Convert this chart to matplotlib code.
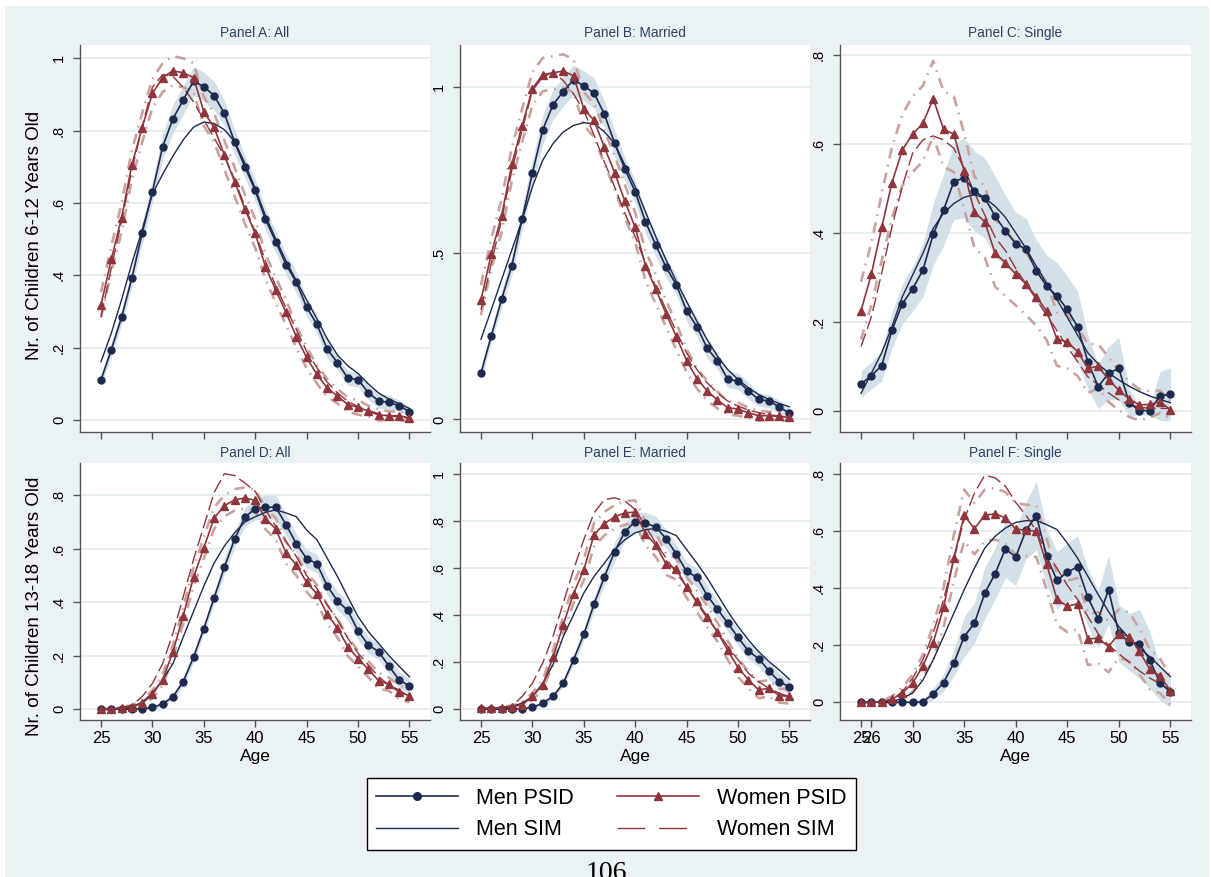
import matplotlib
matplotlib.use("Agg")
import numpy as np
import matplotlib.pyplot as plt
from matplotlib.lines import Line2D
from matplotlib.patches import Rectangle

plt.rcParams['font.family'] = ['Liberation Sans', 'DejaVu Sans']

# ---------------- data ----------------
ages = list(range(25, 56))

# Panel A: children 6-12, all
men_psid_A = [0.111,0.194,0.284,0.392,0.516,0.631,0.756,0.833,0.885,0.937,0.922,0.897,0.848,0.768,0.700,0.635,0.555,0.493,0.430,0.381,0.312,0.265,0.196,0.159,0.116,0.112,0.076,0.053,0.049,0.040,0.023]
women_psid_A = [0.318,0.444,0.559,0.705,0.808,0.903,0.947,0.966,0.960,0.947,0.853,0.809,0.733,0.659,0.583,0.516,0.424,0.359,0.298,0.230,0.173,0.126,0.089,0.066,0.043,0.035,0.025,0.014,0.012,0.012,0.006]
men_sim_A = [0.161,0.24,0.332,0.433,0.525,0.625,0.68,0.73,0.775,0.81,0.824,0.82,0.803,0.77,0.71,0.64,0.565,0.50,0.44,0.385,0.332,0.28,0.225,0.18,0.15,0.129,0.10,0.075,0.058,0.045,0.032]
women_sim_A = [0.285,0.42,0.55,0.69,0.81,0.92,0.955,0.95,0.92,0.88,0.83,0.78,0.73,0.665,0.59,0.52,0.44,0.37,0.31,0.25,0.19,0.145,0.105,0.075,0.052,0.037,0.026,0.018,0.012,0.008,0.005]
men_ci_A = [0.015,0.02,0.02,0.025,0.03,0.03,0.035,0.04,0.04,0.04,0.04,0.04,0.035,0.035,0.03,0.03,0.03,0.03,0.03,0.03,0.025,0.025,0.025,0.02,0.02,0.02,0.02,0.02,0.02,0.015,0.015]
women_ci_A = [0.035,0.035,0.04,0.04,0.04,0.04,0.04,0.04,0.04,0.04,0.04,0.04,0.04,0.04,0.04,0.04,0.035,0.035,0.035,0.03,0.03,0.025,0.025,0.02,0.02,0.02,0.015,0.015,0.012,0.012,0.01]

# Panel B: children 6-12, married
men_psid_B = [0.139,0.251,0.361,0.463,0.603,0.741,0.871,0.947,0.987,1.022,1.004,0.982,0.919,0.831,0.753,0.685,0.595,0.525,0.458,0.405,0.327,0.279,0.214,0.176,0.121,0.115,0.086,0.060,0.055,0.038,0.018]
women_psid_B = [0.359,0.498,0.612,0.768,0.884,0.995,1.038,1.043,1.049,1.034,0.935,0.900,0.819,0.743,0.656,0.578,0.463,0.392,0.318,0.249,0.177,0.123,0.086,0.058,0.035,0.031,0.020,0.011,0.011,0.009,0.006]
men_sim_B = [0.241,0.33,0.42,0.51,0.60,0.70,0.78,0.83,0.865,0.885,0.893,0.89,0.866,0.83,0.765,0.70,0.625,0.55,0.48,0.415,0.355,0.295,0.24,0.19,0.15,0.12,0.095,0.075,0.06,0.048,0.038]
women_sim_B = [0.33,0.47,0.60,0.75,0.87,0.99,1.03,1.045,1.02,0.98,0.93,0.855,0.775,0.70,0.62,0.55,0.47,0.40,0.33,0.265,0.20,0.15,0.11,0.08,0.055,0.04,0.028,0.02,0.014,0.01,0.006]
men_ci_B = [0.02,0.02,0.025,0.03,0.035,0.04,0.045,0.045,0.045,0.045,0.045,0.045,0.04,0.04,0.035,0.035,0.035,0.035,0.03,0.03,0.03,0.03,0.03,0.025,0.025,0.025,0.025,0.02,0.02,0.02,0.015]
women_ci_B = [0.045,0.045,0.05,0.05,0.05,0.05,0.05,0.05,0.05,0.05,0.05,0.05,0.05,0.05,0.05,0.045,0.045,0.045,0.04,0.04,0.035,0.03,0.03,0.025,0.02,0.02,0.015,0.015,0.012,0.012,0.01]

# Panel C: children 6-12, single
men_psid_C = [0.060,0.079,0.101,0.181,0.240,0.274,0.316,0.397,0.451,0.515,0.524,0.494,0.478,0.438,0.404,0.376,0.363,0.314,0.280,0.258,0.228,0.189,0.110,0.054,0.084,0.095,0.018,0.000,0.000,0.033,0.037]
women_psid_C = [0.225,0.307,0.412,0.513,0.586,0.622,0.646,0.702,0.633,0.622,0.539,0.446,0.425,0.354,0.333,0.307,0.285,0.256,0.224,0.161,0.155,0.133,0.095,0.100,0.070,0.046,0.026,0.013,0.014,0.020,0.002]
men_sim_C = [0.039,0.084,0.13,0.189,0.256,0.305,0.354,0.41,0.444,0.466,0.48,0.486,0.478,0.46,0.435,0.40,0.365,0.325,0.286,0.25,0.21,0.17,0.13,0.105,0.085,0.069,0.055,0.043,0.033,0.025,0.018]
women_sim_C = [0.144,0.211,0.309,0.414,0.504,0.579,0.609,0.618,0.609,0.59,0.545,0.49,0.44,0.39,0.36,0.32,0.285,0.25,0.215,0.18,0.144,0.11,0.076,0.058,0.04,0.024,0.014,0.008,0.005,0.005,0.005]
men_ci_C = [0.03,0.03,0.035,0.04,0.045,0.05,0.06,0.07,0.08,0.085,0.09,0.09,0.09,0.09,0.08,0.07,0.07,0.07,0.07,0.075,0.075,0.08,0.06,0.05,0.06,0.07,0.03,0.01,0.01,0.055,0.06]
women_ci_C = [0.065,0.07,0.075,0.08,0.08,0.085,0.085,0.085,0.085,0.085,0.085,0.08,0.08,0.075,0.075,0.07,0.07,0.065,0.065,0.06,0.06,0.055,0.055,0.05,0.05,0.045,0.04,0.035,0.03,0.025,0.02]

# Panel D: children 13-18, all
men_psid_D = [0,0,0,0,0,0.006,0.019,0.046,0.103,0.194,0.301,0.416,0.531,0.636,0.719,0.749,0.756,0.755,0.690,0.619,0.563,0.544,0.461,0.405,0.369,0.293,0.240,0.215,0.161,0.109,0.086]
women_psid_D = [0,0,0.005,0.009,0.021,0.055,0.109,0.215,0.350,0.493,0.603,0.715,0.761,0.783,0.790,0.781,0.713,0.674,0.584,0.540,0.474,0.431,0.355,0.303,0.234,0.189,0.149,0.106,0.093,0.063,0.050]
men_sim_D = [0,0.001,0.003,0.009,0.025,0.06,0.109,0.17,0.27,0.365,0.46,0.546,0.61,0.66,0.70,0.72,0.736,0.746,0.734,0.72,0.67,0.634,0.565,0.496,0.42,0.346,0.29,0.246,0.2,0.16,0.121]
women_sim_D = [0,0.002,0.005,0.015,0.046,0.096,0.17,0.284,0.42,0.56,0.684,0.81,0.881,0.874,0.846,0.815,0.746,0.684,0.628,0.571,0.5,0.452,0.39,0.334,0.265,0.209,0.165,0.121,0.09,0.071,0.046]
men_ci_D = [0,0,0,0,0.002,0.005,0.01,0.012,0.015,0.02,0.02,0.025,0.03,0.03,0.035,0.04,0.045,0.045,0.04,0.035,0.035,0.035,0.035,0.035,0.035,0.035,0.03,0.03,0.03,0.03,0.03]
women_ci_D = [0,0,0.003,0.005,0.01,0.015,0.02,0.025,0.03,0.035,0.04,0.04,0.04,0.04,0.04,0.04,0.04,0.04,0.04,0.04,0.035,0.035,0.035,0.035,0.035,0.03,0.03,0.03,0.025,0.025,0.025]

# Panel E: children 13-18, married
men_psid_E = [0,0,0,0,0,0.007,0.024,0.053,0.109,0.209,0.317,0.446,0.561,0.669,0.754,0.797,0.790,0.774,0.724,0.659,0.585,0.560,0.482,0.425,0.365,0.304,0.247,0.214,0.163,0.116,0.094]
women_psid_E = [0.003,0.003,0.006,0.010,0.017,0.053,0.102,0.219,0.358,0.490,0.592,0.741,0.788,0.817,0.834,0.837,0.746,0.697,0.616,0.595,0.518,0.457,0.393,0.327,0.249,0.176,0.124,0.081,0.088,0.057,0.053]
men_sim_E = [0,0.001,0.003,0.01,0.025,0.053,0.109,0.188,0.308,0.40,0.493,0.564,0.62,0.678,0.72,0.749,0.763,0.767,0.756,0.737,0.678,0.62,0.557,0.486,0.415,0.351,0.294,0.244,0.202,0.166,0.126]
women_sim_E = [0,0.002,0.005,0.013,0.053,0.109,0.195,0.308,0.45,0.592,0.72,0.834,0.89,0.898,0.884,0.848,0.777,0.706,0.642,0.578,0.521,0.45,0.386,0.33,0.266,0.209,0.152,0.116,0.088,0.067,0.053]
men_ci_E = [0,0,0,0,0.002,0.005,0.01,0.012,0.015,0.02,0.025,0.03,0.035,0.04,0.04,0.045,0.045,0.045,0.04,0.04,0.04,0.04,0.04,0.035,0.035,0.035,0.035,0.035,0.035,0.035,0.03]
women_ci_E = [0,0,0.003,0.005,0.01,0.015,0.02,0.03,0.035,0.04,0.045,0.05,0.05,0.05,0.05,0.05,0.05,0.05,0.045,0.045,0.045,0.045,0.045,0.04,0.04,0.04,0.035,0.035,0.035,0.03,0.03]

# Panel F: children 13-18, single
men_psid_F = [0,0,0.002,0,0,0,0.002,0.029,0.069,0.137,0.230,0.277,0.382,0.450,0.537,0.509,0.602,0.654,0.511,0.427,0.456,0.474,0.367,0.292,0.394,0.242,0.211,0.205,0.149,0.067,0.037]
women_psid_F = [0,0,0.002,0.011,0.032,0.067,0.127,0.209,0.332,0.505,0.655,0.608,0.655,0.660,0.646,0.607,0.602,0.599,0.484,0.361,0.336,0.345,0.221,0.225,0.195,0.240,0.230,0.178,0.116,0.092,0.041]
men_sim_F = [0,0,0.001,0.002,0.014,0.032,0.078,0.149,0.23,0.312,0.394,0.47,0.54,0.581,0.61,0.63,0.636,0.637,0.622,0.605,0.558,0.505,0.441,0.377,0.318,0.265,0.225,0.189,0.16,0.125,0.09]
women_sim_F = [0,0,0.002,0.008,0.037,0.084,0.149,0.242,0.359,0.5,0.64,0.733,0.795,0.786,0.757,0.70,0.655,0.6,0.52,0.47,0.41,0.36,0.30,0.24,0.20,0.17,0.14,0.11,0.085,0.065,0.045]
men_ci_F = [0,0,0,0,0,0.005,0.01,0.02,0.03,0.045,0.07,0.07,0.09,0.09,0.1,0.1,0.1,0.12,0.1,0.1,0.1,0.11,0.1,0.1,0.12,0.1,0.1,0.12,0.1,0.06,0.055]
women_ci_F = [0,0,0.003,0.01,0.02,0.03,0.04,0.06,0.07,0.08,0.09,0.09,0.09,0.09,0.09,0.09,0.09,0.09,0.09,0.09,0.09,0.09,0.09,0.09,0.09,0.085,0.085,0.08,0.07,0.06,0.05]

titles = ["Panel A: All", "Panel B: Married", "Panel C: Single",
          "Panel D: All", "Panel E: Married", "Panel F: Single"]
ylabels = ["Nr. of Children 6-12 Years Old", "Nr. of Children 13-18 Years Old"]
legend_labels = ["Men PSID", "Men SIM", "Women PSID", "Women SIM"]
page_number = "106"

# ---------------- style / layout ----------------
W, H = 1211, 877
NAVY = '#1b2a4e'
MAROON = '#90353b'
BAND = '#d4e0e8'
ROSY = '#c9a29e'
BG = '#eaf2f3'
TITLE_C = '#2f3f66'
AXC = '#555555'

fig = plt.figure(figsize=(W / 100, H / 100), dpi=100, facecolor='white')
fig.add_artist(Rectangle((5 / W, 0), (1209 - 5) / W, 1 - 6 / H,
                         transform=fig.transFigure, facecolor=BG,
                         edgecolor='none', zorder=-10))

cols = [(80, 430), (460, 810), (840, 1191)]
rows = [(45, 432), (463, 720)]

panel_data = [
    (men_psid_A, women_psid_A, men_sim_A, women_sim_A, men_ci_A, women_ci_A),
    (men_psid_B, women_psid_B, men_sim_B, women_sim_B, men_ci_B, women_ci_B),
    (men_psid_C, women_psid_C, men_sim_C, women_sim_C, men_ci_C, women_ci_C),
    (men_psid_D, women_psid_D, men_sim_D, women_sim_D, men_ci_D, women_ci_D),
    (men_psid_E, women_psid_E, men_sim_E, women_sim_E, men_ci_E, women_ci_E),
    (men_psid_F, women_psid_F, men_sim_F, women_sim_F, men_ci_F, women_ci_F),
]
yticks_list = [[0, .2, .4, .6, .8, 1], [0, .5, 1], [0, .2, .4, .6, .8],
               [0, .2, .4, .6, .8], [0, .2, .4, .6, .8, 1], [0, .2, .4, .6, .8]]
ylims = [(-0.033, 1.037), (-0.038, 1.127), (-0.048, 0.8225),
         (-0.041, 0.921), (-0.047, 1.046), (-0.062, 0.838)]


def fmt(v):
    if v == 0:
        return "0"
    if v == 1:
        return "1"
    return ("%g" % v).lstrip("0")


x = np.array(ages)
for i in range(6):
    r, c = divmod(i, 3)
    x0, x1 = cols[c]
    y0, y1 = rows[r]
    ax = fig.add_axes([x0 / W, 1 - y1 / H, (x1 - x0) / W, (y1 - y0) / H])
    ax.set_facecolor('white')
    men, women, msim, wsim, mci, wci = [np.array(a, dtype=float) for a in panel_data[i]]

    ax.fill_between(x, men - mci, men + mci, color=BAND, lw=0, zorder=1)
    for sgn in (-1, 1):
        ax.plot(x, women + sgn * wci, color=ROSY, lw=1.9,
                ls=(0, (4, 2.5, 0.6, 2.5)), zorder=2)
    ax.plot(x, msim, color=NAVY, lw=1.0, zorder=3)
    ax.plot(x, wsim, color=MAROON, lw=1.0, dashes=(10, 3.5), zorder=3)
    ax.plot(x, men, color=NAVY, lw=1.2, marker='o', ms=5, zorder=4)
    ax.plot(x, women, color=MAROON, lw=1.2, marker='^', ms=5.5, zorder=4)

    ax.set_xlim(22.96, 57.0)
    ax.set_ylim(*ylims[i])
    yt = yticks_list[i]
    ax.set_yticks(yt)
    ax.set_yticklabels([fmt(v) for v in yt], rotation=90, va='center', fontsize=10.5)
    xt = [25, 30, 35, 40, 45, 50, 55] if i != 5 else [25, 26, 30, 35, 40, 45, 50, 55]
    ax.set_xticks(xt)
    ax.yaxis.grid(True, color='#e3ebef', lw=1.2)
    ax.set_axisbelow(True)
    for s in ('top', 'right'):
        ax.spines[s].set_visible(False)
    for s in ('left', 'bottom'):
        ax.spines[s].set_color(AXC)
        ax.spines[s].set_linewidth(1.0)
    ax.tick_params(axis='both', color=AXC, length=5, width=1, direction='out')
    ax.tick_params(axis='y', pad=5)
    if r == 0:
        ax.tick_params(axis='x', labelbottom=False)
    else:
        ax.set_xticklabels([str(t) for t in xt], fontsize=12)
        ax.tick_params(axis='x', pad=3)
        ax.set_xlabel("Age", fontsize=12.5, labelpad=2)
    if c == 0:
        ax.set_ylabel(ylabels[r], fontsize=13.5)
        if r == 0:
            ax.yaxis.set_label_coords((43 - x0) / (x1 - x0), (y1 - 235) / (y1 - y0))
        else:
            ax.yaxis.set_label_coords((43 - x0) / (x1 - x0), (y1 - 606) / (y1 - y0))
    ty = 33 if r == 0 else 452.5
    fig.text((x0 + x1) / 2 / W, 1 - ty / H, titles[i], ha='center', va='center',
             fontsize=9.8, color=TITLE_C)

handles = [
    Line2D([], [], color=NAVY, lw=1.2, marker='o', ms=5.5),
    Line2D([], [], color=NAVY, lw=1.0),
    Line2D([], [], color=MAROON, lw=1.2, marker='^', ms=6),
    Line2D([], [], color=MAROON, lw=1.0, dashes=(20, 10)),
]
leg = fig.legend(handles, legend_labels, ncol=2, loc='upper center',
                 bbox_to_anchor=(611.5 / W, 1 - 778 / H), fontsize=15.5,
                 frameon=True, fancybox=False, edgecolor='black',
                 facecolor='white', framealpha=1, handlelength=3.8,
                 handletextpad=0.85, columnspacing=2.0, labelspacing=0.5,
                 borderpad=0.45, borderaxespad=0)
leg.get_frame().set_linewidth(1.0)

fig.text(606 / W, -3 / H, page_number, ha='center', va='baseline',
         fontsize=20, family=['Liberation Serif', 'DejaVu Serif'], color='black')

fig.savefig("out.png", dpi=100, facecolor=fig.get_facecolor())
